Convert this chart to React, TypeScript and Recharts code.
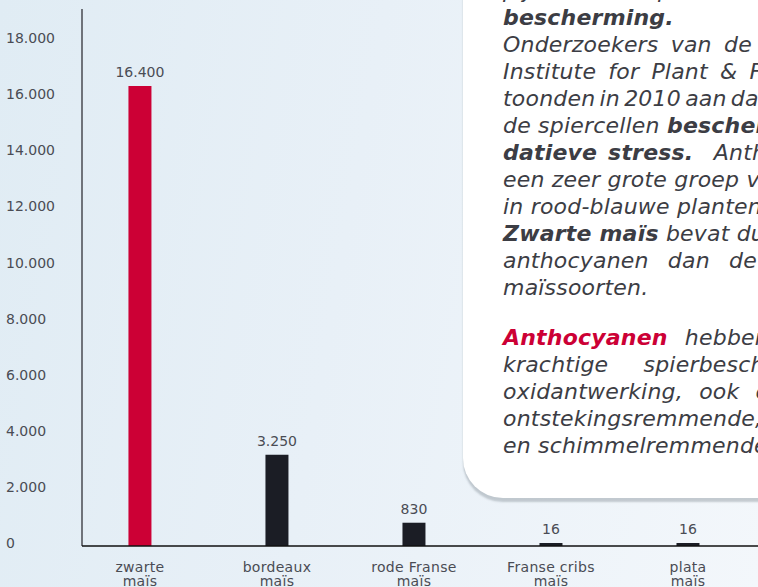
import React from 'react';
import { BarChart, Bar, XAxis, YAxis, Cell, LabelList } from 'recharts';

// anthocyanen per maïssoort
const categories = ['zwarte maïs', 'bordeaux maïs', 'rode Franse maïs', 'Franse cribs maïs', 'plata maïs'];
const values = [16400, 3250, 830, 16, 16];
const yTicks = [0, 2000, 4000, 6000, 8000, 10000, 12000, 14000, 16000, 18000];

const RED = '#cc0035';
const DARK = '#1b1d25';
const TEXT = '#4a4c54';
const FONT = '"DejaVu Sans", sans-serif';

const fmt = (v: number) => String(v).replace(/\B(?=(\d{3})+(?!\d))/g, '.');

const data = categories.map((name, i) => ({ idx: i, name, value: values[i] }));

const YTick = ({ y, payload }: any) => (
  <text x={6} y={y} dy={2} textAnchor="start" fill={TEXT} fontSize={14} fontFamily={FONT}>
    {fmt(payload.value)}
  </text>
);

const XTick = ({ x, y, payload }: any) => {
  const name = categories[payload.value] || '';
  const words = name.split(' ');
  const last = words.pop();
  return (
    <text x={x} y={y} textAnchor="middle" fill={TEXT} fontSize={14} fontFamily={FONT} letterSpacing={0.3}>
      <tspan x={x} dy={18}>{words.join(' ')}</tspan>
      <tspan x={x} dy={14}>{last}</tspan>
    </text>
  );
};

// one line of the text card, ws = extra word spacing
const Line = ({ ws = 0, children }: { ws?: number; children: React.ReactNode }) => (
  <div style={{ height: 27, whiteSpace: 'nowrap', wordSpacing: ws }}>{children}</div>
);

const Card = () => (
  <div
    style={{
      position: 'absolute',
      left: 463,
      top: -60,
      width: 420,
      height: 558,
      background: '#fff',
      borderRadius: 40,
      boxShadow: '0 4px 2px rgba(110,120,130,0.35)',
      overflow: 'hidden',
    }}
  >
    <div
      style={{
        position: 'absolute',
        left: 40,
        top: 37,
        fontFamily: FONT,
        fontStyle: 'italic',
        fontSize: 22,
        letterSpacing: 0.2,
        lineHeight: '27px',
        color: '#3c3d44',
      }}
    >
      <Line>pijnstillende spier-</Line>
      <Line><b>bescherming.</b></Line>
      <Line ws={5}>Onderzoekers van de 'New Zealand</Line>
      <Line ws={5}>Institute for Plant &amp; Food Research'</Line>
      <Line ws={-3}>toonden in 2010 aan dat anthocyanen</Line>
      <Line>de spiercellen <b>beschermen tegen oxi-</b></Line>
      <Line ws={3}><b>datieve stress.</b>&nbsp; Anthocyanen zijn</Line>
      <Line>een zeer grote groep van kleurstoffen</Line>
      <Line>in rood-blauwe planten en vruchten.</Line>
      <Line><b>Zwarte maïs</b> bevat duizenden keren meer</Line>
      <Line ws={12}>anthocyanen dan de andere</Line>
      <Line>maïssoorten.</Line>
      <div style={{ height: 23 }} />
      <Line ws={10}><b style={{ color: RED }}>Anthocyanen</b> hebben naast hun</Line>
      <Line ws={28}>krachtige spierbeschermende anti-</Line>
      <Line ws={9}>oxidantwerking, ook een sterke</Line>
      <Line>ontstekingsremmende, antibacteriële</Line>
      <Line>en schimmelremmende werking.</Line>
    </div>
  </div>
);

export default function App() {
  return (
    <div
      style={{
        position: 'fixed',
        left: 0,
        top: 0,
        width: 758,
        height: 587,
        overflow: 'hidden',
        background: 'linear-gradient(100deg, #e0ecf4 0%, #e8f0f7 45%, #f3f7fb 100%)',
      }}
    >
      <BarChart
        width={758}
        height={587}
        data={data}
        margin={{ top: 9, right: 0, left: 0, bottom: 0 }}
      >
        <YAxis
          type="number"
          domain={[0, 19150]}
          ticks={yTicks}
          width={82}
          tickLine={false}
          axisLine={{ stroke: '#6f737a', strokeWidth: 2 }}
          tick={<YTick />}
        />
        <XAxis
          type="number"
          dataKey="idx"
          domain={[-0.423, 4.511]}
          ticks={[0, 1, 2, 3, 4]}
          allowDataOverflow
          height={41}
          tickLine={false}
          axisLine={{ stroke: '#111', strokeWidth: 1.5 }}
          tick={<XTick />}
          interval={0}
        />
        <Bar dataKey="value" barSize={23} minPointSize={3} isAnimationActive={false}>
          {data.map((d, i) => (
            <Cell key={d.name} fill={i === 0 ? RED : DARK} />
          ))}
          <LabelList
            dataKey="value"
            position="top"
            offset={9}
            formatter={(v: any) => fmt(Number(v))}
            fill={TEXT}
            fontSize={14}
            fontFamily={FONT}
          />
        </Bar>
      </BarChart>
      <Card />
    </div>
  );
}
